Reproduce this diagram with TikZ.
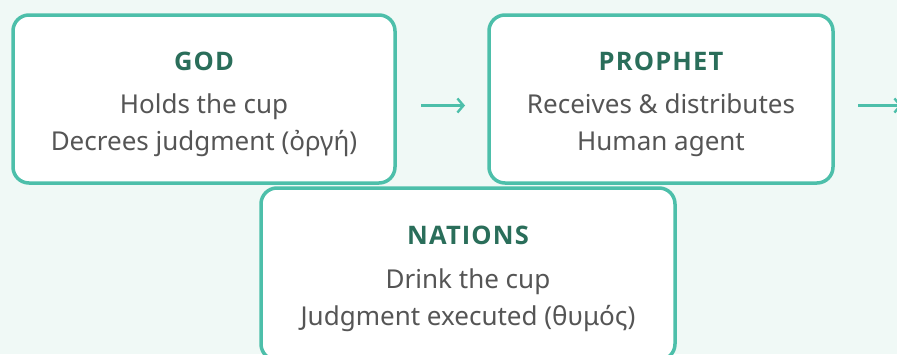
\documentclass[tikz,border=0pt]{standalone}
\usepackage{fontspec}
\setmainfont{Noto Sans}
\newfontfamily\ttlfont{Open Sans}[LetterSpace=4.5]
\usetikzlibrary{arrows.meta}
\definecolor{bgc}{HTML}{F0F9F6}
\definecolor{teal}{HTML}{4DBFAA}
\definecolor{ttl}{HTML}{2A6E5A}
\definecolor{txt}{HTML}{555555}
\tikzset{
  card/.style={draw=teal, line width=3.5pt, fill=white, rounded corners=16pt, inner sep=0pt},
  ttltext/.style={anchor=base, text=ttl, font=\ttlfont\fontsize{25.5}{28}\selectfont\bfseries, inner sep=0pt},
  bodytext/.style={anchor=base, text=txt, font=\fontsize{26}{30}\selectfont, inner sep=0pt},
  flow/.style={draw=teal, line width=2.4pt, -{Straight Barb[length=6pt,width=14pt,line width=2.4pt]}}
}
\begin{document}
\begin{tikzpicture}[x=1pt,y=-1pt]
\fill[bgc] (0,0) rectangle (897,354);
\useasboundingbox (0,0) rectangle (897,354);
% GOD
\node[card, minimum width=382pt, minimum height=168pt] (god) at (204,99) {};
\node[ttltext] (godt) at (204,70) {GOD};
\node[bodytext] (god1) at (204,113) {Holds the cup};
\node[bodytext] (god2) at (204,150) {Decrees judgment (ὀργή)};
% PROPHET
\node[card, minimum width=344pt, minimum height=168pt] (prophet) at (661,99) {};
\node[ttltext] (prophett) at (661,70) {PROPHET};
\node[bodytext] (prophet1) at (661,113) {Receives \& distributes};
\node[bodytext] (prophet2) at (661,150) {Human agent};
% NATIONS
\node[card, minimum width=414pt, minimum height=172pt] (nations) at (468,274) {};
\node[ttltext] (nationst) at (468,244) {NATIONS};
\node[bodytext] (nations1) at (468,288) {Drink the cup};
\node[bodytext] (nations2) at (468,325) {Judgment executed (θυμός)};
% arrows
\coordinate (a1s) at (421,105.5);
\coordinate (a1e) at (465,105.5);
\coordinate (a2s) at (858,105.5);
\coordinate (a2e) at (902,105.5);
\draw[flow] (a1s) -- (a1e);
\draw[flow] (a2s) -- (a2e);
\end{tikzpicture}
\end{document}
